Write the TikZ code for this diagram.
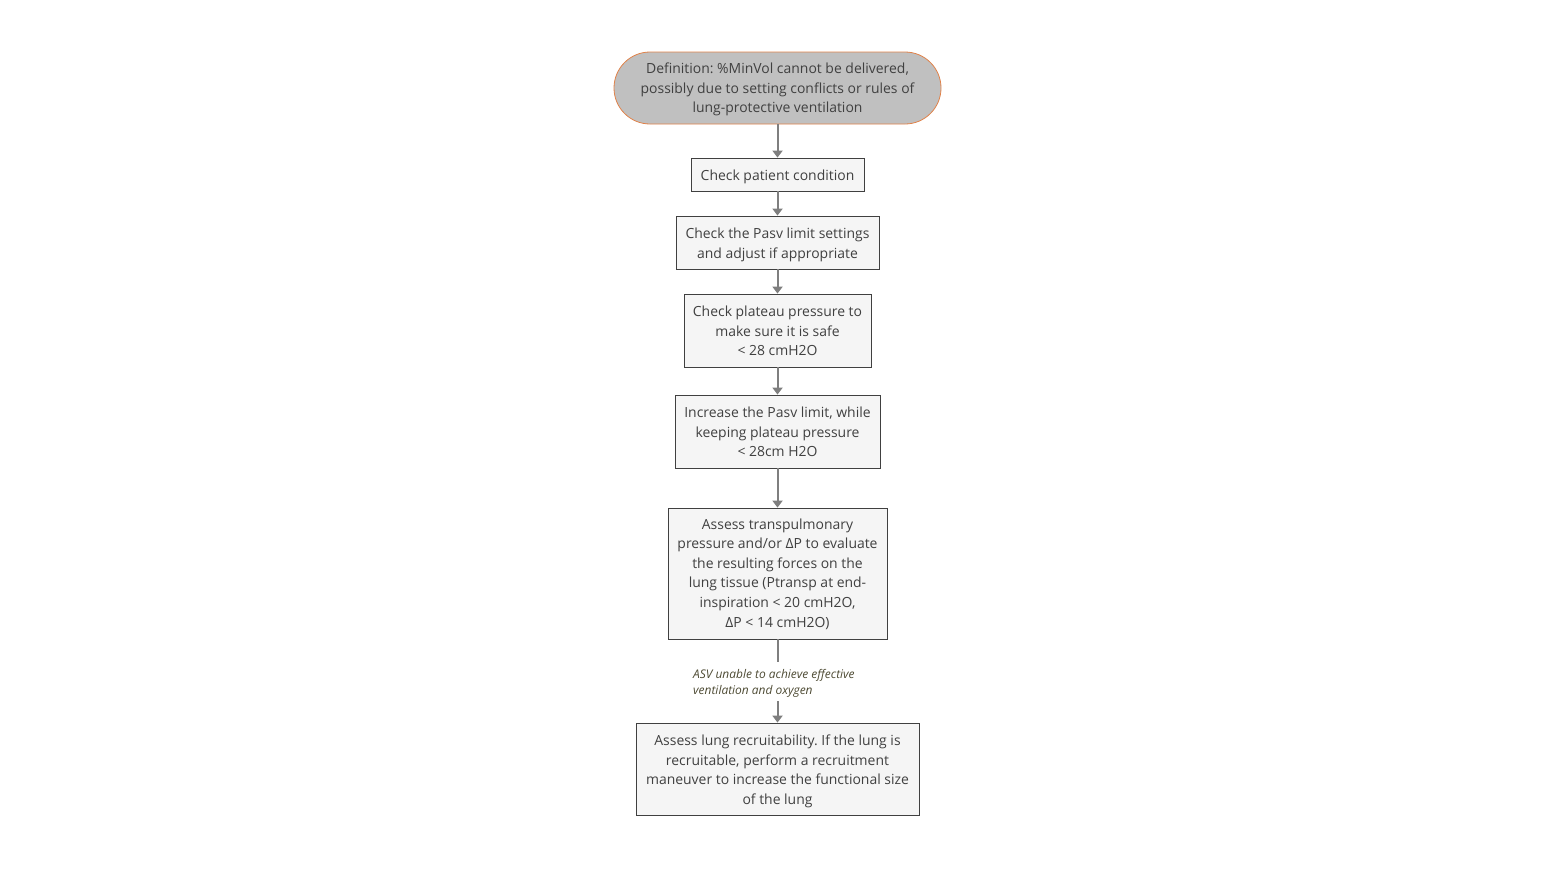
\documentclass[tikz,border=0pt]{standalone}
\usepackage{fontspec}
\setmainfont{Open Sans}
\frenchspacing
\usetikzlibrary{arrows.meta}
\definecolor{txt}{HTML}{404040}
\definecolor{boxfill}{HTML}{F5F5F5}
\definecolor{boxline}{HTML}{404040}
\definecolor{startfill}{HTML}{C0C0C0}
\definecolor{startline}{HTML}{E0824A}
\definecolor{arrowc}{HTML}{7F7F7F}
\definecolor{labc}{HTML}{4D4A33}
\tikzset{
  boxtext/.style={text=txt, align=center, font=\fontsize{14}{19.6}\selectfont, inner sep=0pt, yshift=-2.5bp},
  stepbox/.style={draw=boxline, line width=0.8bp, fill=boxfill, inner sep=0pt},
  startbox/.style={draw=startline, line width=0.8bp, fill=startfill, rounded corners=36bp, inner sep=0pt,
    minimum width=327bp, minimum height=72bp},
  flow/.style={draw=arrowc, line width=2bp, -{Triangle[length=7bp,width=10bp]}},
  flowline/.style={draw=arrowc, line width=2bp},
  lab/.style={text=labc, align=left, font=\fontsize{12}{16.5}\selectfont\itshape, inner sep=0pt, anchor=north west}
}
\begin{document}
\begin{tikzpicture}[x=1bp,y=-1bp]
\useasboundingbox (0,0) rectangle (1555,874);
\node[startbox, label={[boxtext, yshift=1bp]center:{Definition: \%MinVol cannot be delivered,\\possibly due to setting conflicts or rules of\\lung-protective ventilation}}] (s) at (777.5,88) {};
\node[stepbox, minimum width=173bp, minimum height=33bp, label={[boxtext]center:{Check patient condition}}] (b1) at (777.5,174.5) {};
\node[stepbox, minimum width=203bp, minimum height=53bp, label={[boxtext]center:{Check the Pasv limit settings\\and adjust if appropriate}}] (b2) at (777.5,242.5) {};
\node[stepbox, minimum width=187bp, minimum height=73bp, label={[boxtext, yshift=2bp]center:{Check plateau pressure to\\make sure it is safe\\< 28 cmH2O}}] (b3) at (777.5,330.5) {};
\node[stepbox, minimum width=205bp, minimum height=73bp, label={[boxtext, yshift=2bp]center:{Increase the Pasv limit, while\\keeping plateau pressure\\< 28cm H2O}}] (b4) at (777.5,431.5) {};
\node[stepbox, minimum width=219bp, minimum height=131bp, label={[boxtext, yshift=2bp]center:{Assess transpulmonary\\pressure and/or ΔP to evaluate\\the resulting forces on the\\lung tissue (Ptransp at end-\\inspiration < 20 cmH2O,\\ΔP < 14 cmH2O)}}] (b5) at (777.5,573.5) {};
\node[stepbox, minimum width=283bp, minimum height=92bp, label={[boxtext]center:{Assess lung recruitability. If the lung is\\recruitable, perform a recruitment\\maneuver to increase the functional size\\of the lung}}] (b6) at (777.5,769) {};
\node[lab] (l) at (693,669) {ASV unable to achieve effective\\ventilation and oxygen};
\coordinate (c1) at (777.5,662);
\coordinate (c2) at (777.5,701);
\draw[flow] (s) -- (b1);
\draw[flow] (b1) -- (b2);
\draw[flow] (b2) -- (b3);
\draw[flow] (b3) -- (b4);
\draw[flow] (b4) -- (b5);
\draw[flowline] (b5) -- (c1);
\draw[flow] (c2) -- (b6);
\end{tikzpicture}
\end{document}
